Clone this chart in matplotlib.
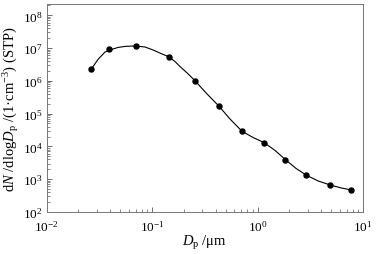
import matplotlib
matplotlib.use("Agg")
import matplotlib.pyplot as plt
from matplotlib.ticker import LogLocator, NullFormatter

plt.rcParams['font.family'] = ['Liberation Serif', 'DejaVu Serif']
plt.rcParams['mathtext.fontset'] = 'custom'
plt.rcParams['mathtext.rm'] = 'Liberation Serif'
plt.rcParams['mathtext.it'] = 'Liberation Serif:italic'
plt.rcParams['mathtext.bf'] = 'Liberation Serif:bold'

# measured points
dp_points = [0.0263, 0.0387, 0.0698, 0.1436, 0.257, 0.429, 0.713, 1.153, 1.837, 2.904, 4.875, 7.709]
n_points = [2.29e6, 9.53e6, 1.127e7, 5.43e6, 9.86e5, 1.71e5, 2.88e4, 1.30e4, 3.94e3, 1.315e3, 665, 469]

# fitted curve
dp_curve = [0.02632, 0.03088, 0.03573, 0.03988, 0.04777, 0.05655, 0.06884, 0.08561, 0.1027, 0.1188,
            0.1424, 0.1650, 0.1839, 0.2129, 0.257, 0.332, 0.429, 0.548, 0.713, 0.906,
            1.153, 1.466, 1.837, 2.317, 2.904, 3.750, 4.875, 6.194, 7.709]
n_curve = [2.21e6, 4.62e6, 7.55e6, 8.81e6, 1.050e7, 1.134e7, 1.159e7, 1.080e7, 8.69e6, 7.04e6,
           5.51e6, 3.88e6, 2.73e6, 1.79e6, 9.86e5, 3.96e5, 1.71e5, 6.84e4, 2.88e4, 1.87e4,
           1.30e4, 7.50e3, 3.94e3, 2.12e3, 1.315e3, 881, 665, 540, 469]

fig = plt.figure(figsize=(3.79, 2.55), dpi=100)
ax = fig.add_axes([0.123, 0.165, 0.835, 0.815])

ax.plot(dp_curve, n_curve, color='black', lw=0.8)
ax.plot(dp_points, n_points, 'o', color='black', ms=3.6)

ax.set_xscale('log')
ax.set_yscale('log')
ax.set_xlim(1e-2, 1e1)
ax.set_ylim(1e2, 2.2e8)

ax.xaxis.set_major_locator(LogLocator(base=10, numticks=10))
ax.yaxis.set_major_locator(LogLocator(base=10, numticks=10))
ax.xaxis.set_minor_locator(LogLocator(base=10, subs=range(2, 10), numticks=20))
ax.yaxis.set_minor_locator(LogLocator(base=10, subs=range(2, 10), numticks=20))
ax.xaxis.set_minor_formatter(NullFormatter())
ax.yaxis.set_minor_formatter(NullFormatter())

ax.tick_params(which='both', direction='in', top=False, right=False, labelsize=9.5, color='#555555')
ax.tick_params(which='major', length=3.5, width=0.6)
ax.tick_params(axis='x', which='major', pad=5)
ax.tick_params(axis='y', which='major', pad=3)
ax.tick_params(which='minor', length=2, width=0.5)
for s in ax.spines.values():
    s.set_color('#777777')
    s.set_linewidth(0.7)

ax.set_xlabel(r'$D_{\rm p}$ /μm', fontsize=10.5, labelpad=0)
ax.set_ylabel(r'd$N$ /dlog$D_{\rm p}$ /(1·cm$^{-3}$) (STP)', fontsize=10.5, labelpad=1)

fig.savefig('out.png', dpi=100)
